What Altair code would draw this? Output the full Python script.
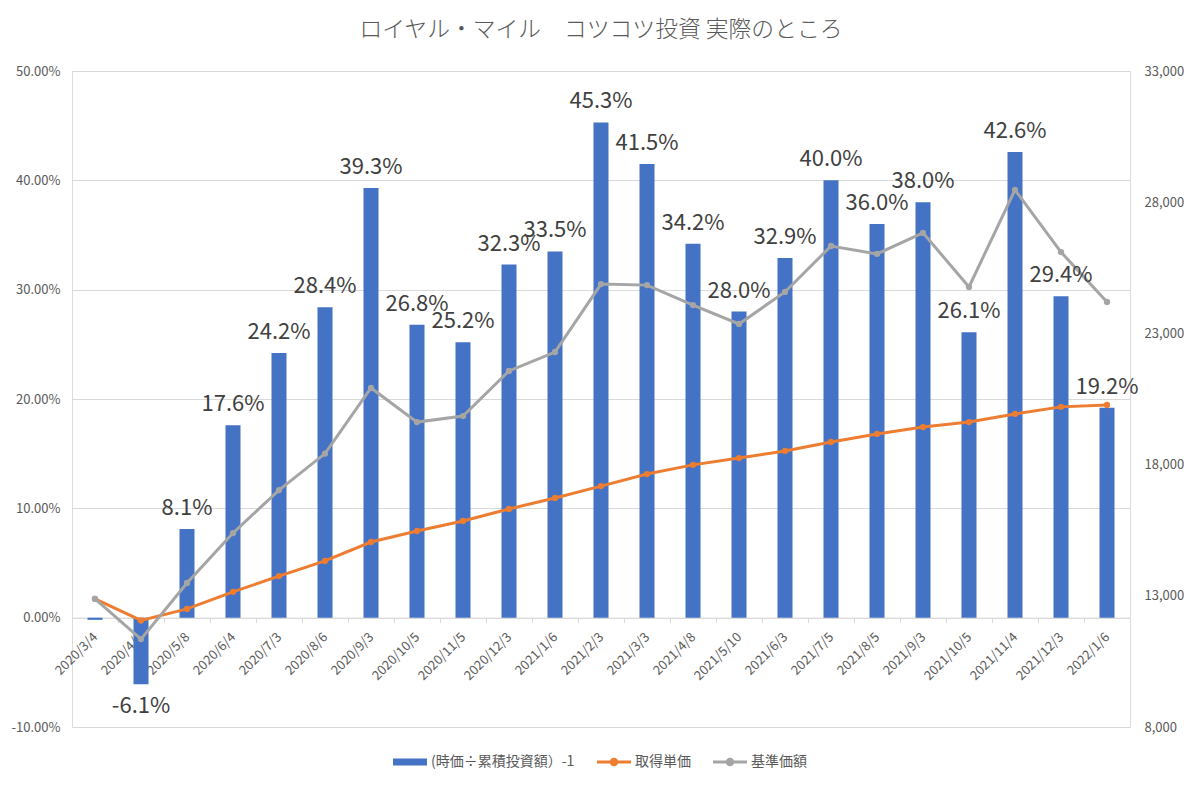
import altair as alt
import pandas as pd

# ---- data ----
dates = ["2020/3/4", "2020/4/3", "2020/5/8", "2020/6/4", "2020/7/3", "2020/8/6",
         "2020/9/3", "2020/10/5", "2020/11/5", "2020/12/3", "2021/1/6", "2021/2/3",
         "2021/3/3", "2021/4/8", "2021/5/10", "2021/6/3", "2021/7/5", "2021/8/5",
         "2021/9/3", "2021/10/5", "2021/11/4", "2021/12/3", "2022/1/6"]

ratio = [-0.002, -0.061, 0.081, 0.176, 0.242, 0.284, 0.393, 0.268, 0.252, 0.323,
         0.335, 0.453, 0.415, 0.342, 0.280, 0.329, 0.400, 0.360, 0.380, 0.261,
         0.426, 0.294, 0.192]

ratio_labels = ["", "-6.1%", "8.1%", "17.6%", "24.2%", "28.4%", "39.3%", "26.8%",
                "25.2%", "32.3%", "33.5%", "45.3%", "41.5%", "34.2%", "28.0%",
                "32.9%", "40.0%", "36.0%", "38.0%", "26.1%", "42.6%", "29.4%", "19.2%"]

acq_price = [12880, 12060, 12500, 13150, 13750, 14330, 15050, 15470, 15850, 16310,
             16730, 17180, 17640, 17990, 18250, 18520, 18860, 19170, 19430, 19620,
             19930, 20200, 20270]

nav = [12880, 11350, 13490, 15390, 17030, 18420, 20920, 19620, 19850, 21570,
       22290, 24880, 24840, 24080, 23360, 24580, 26330, 26030, 26830, 24770,
       28470, 26100, 24200]

left_ticks = [-0.1, 0.0, 0.1, 0.2, 0.3, 0.4, 0.5]
right_ticks = [8000, 13000, 18000, 23000, 28000, 33000]

title_text = "ロイヤル・マイル　コツコツ投資 実際のところ"
series_names = ["(時価÷累積投資額）-1", "取得単価", "基準価額"]
series_colors = ["#4472C4", "#ED7D31", "#A5A5A5"]

df = pd.DataFrame({"date": dates, "ratio": ratio, "label": ratio_labels,
                   "acq": acq_price, "nav": nav})
legend_df = pd.DataFrame({"series": series_names})

FONT = "Noto Sans CJK JP"
AXIS_GRAY = "#595959"
GRID = "#d9d9d9"

W, H = 1058, 656
left_dom = [-0.1, 0.5]
right_dom = [8000, 33000]
zero_offset = -H * (0.0 - left_dom[0]) / (left_dom[1] - left_dom[0])

x_enc = alt.X(
    "date:N",
    scale=alt.Scale(domain=dates, paddingInner=0, paddingOuter=0),
    axis=alt.Axis(
        title=None, labelAngle=-45, labelAlign="right", labelBaseline="middle",
        labelFont=FONT, labelFontSize=13, labelColor=AXIS_GRAY, labelPadding=12,
        domainColor=GRID, tickColor=GRID, tickSize=5, tickBand="extent",
        grid=False, offset=zero_offset, labelOverlap=False,
    ),
)

bars = alt.Chart(df).mark_bar(size=15, color=series_colors[0]).encode(
    x=x_enc,
    y=alt.Y("ratio:Q", scale=alt.Scale(domain=left_dom, nice=False, zero=False),
            axis=alt.Axis(
                orient="left", title=None, values=left_ticks,
                labelExpr="replace(format(datum.value, '.2%'), '\u2212', '-')",
                labelFont=FONT, labelFontSize=13, labelColor=AXIS_GRAY,
                labelPadding=12, domain=False, ticks=False,
                grid=True, gridColor=GRID, gridWidth=1)),
)

acq_line = alt.Chart(df).mark_line(
    color=series_colors[1], strokeWidth=3,
    point=alt.OverlayMarkDef(color=series_colors[1], filled=True, size=40),
).encode(
    x=x_enc,
    y=alt.Y("acq:Q", scale=alt.Scale(domain=right_dom, nice=False, zero=False),
            axis=alt.Axis(
                orient="right", title=None, values=right_ticks,
                labelExpr="format(datum.value, ',')",
                labelFont=FONT, labelFontSize=13, labelColor=AXIS_GRAY,
                labelPadding=14, domain=False, ticks=False, grid=False)),
)

nav_line = alt.Chart(df).mark_line(
    color=series_colors[2], strokeWidth=3,
    point=alt.OverlayMarkDef(color=series_colors[2], filled=True, size=40),
).encode(
    x=x_enc,
    y=alt.Y("nav:Q", scale=alt.Scale(domain=right_dom, nice=False, zero=False), axis=None),
)

text_pos = alt.Chart(df).transform_filter("datum.ratio > 0").mark_text(
    baseline="alphabetic", dy=-14, font=FONT, fontSize=22, color="#404040"
).encode(
    x=x_enc,
    y=alt.Y("ratio:Q", scale=alt.Scale(domain=left_dom, nice=False, zero=False), axis=None),
    text="label:N",
)

text_neg = alt.Chart(df).transform_filter("datum.ratio < 0 && datum.label != ''").mark_text(
    baseline="top", dy=12, font=FONT, fontSize=22, color="#404040"
).encode(
    x=x_enc,
    y=alt.Y("ratio:Q", scale=alt.Scale(domain=left_dom, nice=False, zero=False), axis=None),
    text="label:N",
)

bar_sym = "M-1,-0.2H1V0.2H-1Z"
line_sym = ("M-1,-0.09H1V0.09H-1Z "
            "M0.25,0A0.25,0.25,0,1,1,-0.25,0A0.25,0.25,0,1,1,0.25,0Z")

leg_params = dict(
    orient="none", legendX=321, legendY=674, direction="horizontal", title=None,
    labelFont=FONT, labelFontSize=14, labelColor=AXIS_GRAY, symbolSize=1156,
    symbolStrokeWidth=0, labelOffset=4, columnPadding=22, padding=0,
)

legend_layer = alt.Chart(legend_df).transform_filter("false").mark_point(
    filled=True, size=1156, opacity=1, strokeWidth=0
).encode(
    color=alt.Color("series:N", scale=alt.Scale(domain=series_names, range=series_colors),
                    legend=alt.Legend(**leg_params)),
    shape=alt.Shape("series:N", scale=alt.Scale(domain=series_names, range=[bar_sym, line_sym, line_sym]),
                    legend=alt.Legend(**leg_params)),
)

chart = alt.layer(bars, acq_line, nav_line, text_pos, text_neg, legend_layer).resolve_scale(
    y="independent"
).properties(
    width=W, height=H,
    title=alt.TitleParams(text=title_text, font=FONT, fontSize=22.8, fontWeight=300,
                          color=AXIS_GRAY, anchor="middle", offset=23),
    autosize=alt.AutoSizeParams(type="none"),
    padding={"left": 64, "top": 63, "right": 62, "bottom": 50},
).configure_view(stroke=None).configure(background="white")

chart.save("out.html", embed_options={"renderer": "svg", "actions": False})
